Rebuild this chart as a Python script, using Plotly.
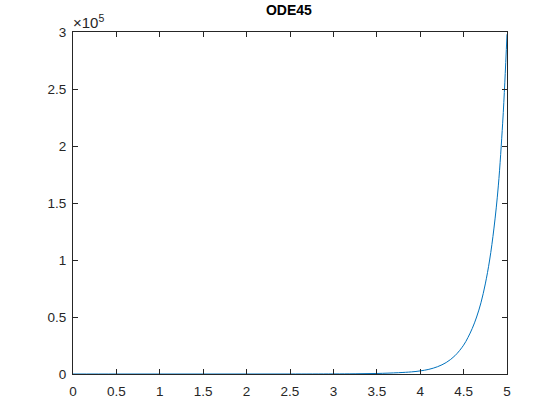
import plotly.graph_objects as go

# Solution values
t_vals = [0.0, 0.5, 1.0, 1.5, 2.0, 2.5, 3.0, 3.25, 3.5, 3.75, 3.9, 4.0, 4.1, 4.2,
          4.3, 4.4, 4.5, 4.55, 4.6, 4.65, 4.7, 4.75, 4.8, 4.85, 4.9, 4.95,
          4.975, 5.0]
y_vals = [1, 1, 2, 3, 7, 23, 90, 200, 460, 1150, 1850, 2700, 4100, 6400,
          10100, 16000, 25300, 32000, 40000, 50000, 62500, 79000, 100000,
          128000, 165000, 220000, 256000, 298000]

x_ticks = [0, 0.5, 1, 1.5, 2, 2.5, 3, 3.5, 4, 4.5, 5]
x_tick_text = ["0", "0.5", "1", "1.5", "2", "2.5", "3", "3.5", "4", "4.5", "5"]
y_ticks = [0, 50000, 100000, 150000, 200000, 250000, 300000]
y_tick_text = ["0", "0.5", "1", "1.5", "2", "2.5", "3"]

axis_col = "#262626"
font_fam = "Liberation Sans, Arial, Helvetica, sans-serif"

fig = go.Figure()
fig.add_trace(go.Scatter(
    x=t_vals, y=y_vals, mode="lines",
    line=dict(color="#0072BD", width=1, shape="spline", smoothing=1),
    showlegend=False, hoverinfo="skip",
))

common = dict(
    showgrid=False, zeroline=False, showline=True, linecolor=axis_col,
    linewidth=1, mirror="ticks", ticks="inside", ticklen=5, tickwidth=1,
    tickcolor=axis_col, tickfont=dict(family=font_fam, size=13.5, color=axis_col),
)

fig.update_layout(
    width=560, height=420,
    margin=dict(l=73, r=53, t=32, b=46),
    paper_bgcolor="white", plot_bgcolor="white",
    title=dict(text="<b>ODE45</b>", x=0.516, xanchor="center", y=0.975, yanchor="middle",
               font=dict(family=font_fam, size=14, color="black")),
    xaxis=dict(range=[0, 5], tickvals=x_ticks, ticktext=x_tick_text,
               ticklabelstandoff=5, **common),
    yaxis=dict(range=[0, 300000], tickvals=y_ticks, ticktext=y_tick_text,
               ticklabelstandoff=3, **common),
    annotations=[dict(
        text="×10<sup>5</sup>", xref="paper", yref="paper", x=0, y=1,
        xanchor="left", yanchor="bottom", showarrow=False, xshift=-2, yshift=-1,
        font=dict(family=font_fam, size=15, color=axis_col),
    )],
)

fig.write_html("out.html")
